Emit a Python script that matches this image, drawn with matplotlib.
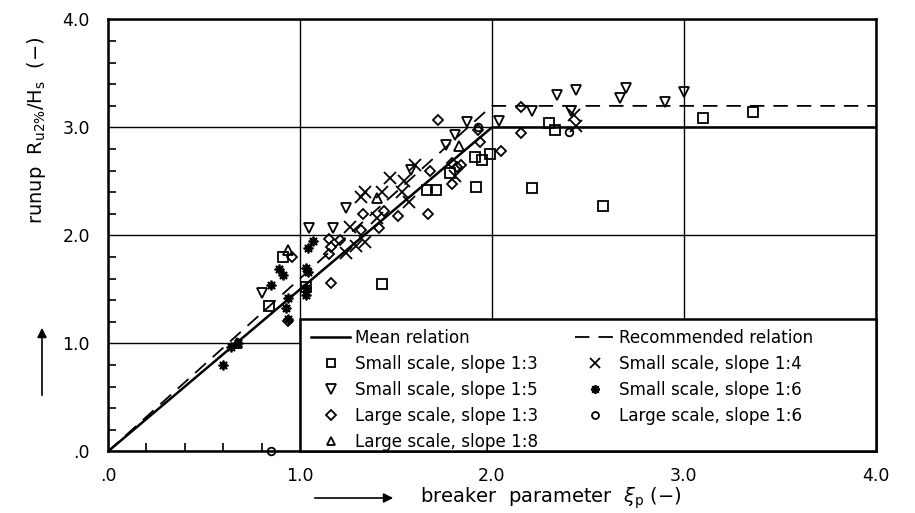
import numpy as np
import matplotlib.pyplot as plt
from matplotlib.lines import Line2D
from matplotlib.patches import Rectangle

# relations (breakpoints)
mean_x = [0.0, 2.0, 4.0]
mean_y = [0.0, 3.0, 3.0]
rec_x = [0.0, 2.0, 4.0]
rec_y = [0.0, 3.2, 3.2]

# small scale, slope 1:3
s13_x = [1.43, 1.66, 1.71, 1.78, 1.92, 1.91, 1.95, 1.99, 2.21, 2.58, 2.30, 2.33, 3.10, 3.36, 0.84, 1.03, 0.91]
s13_y = [1.55, 2.42, 2.42, 2.58, 2.45, 2.73, 2.70, 2.75, 2.44, 2.27, 3.04, 2.98, 3.09, 3.14, 1.35, 1.52, 1.80]

# small scale, slope 1:5
s15_x = [1.87, 2.04, 2.21, 2.34, 2.44, 2.67, 2.70, 2.90, 3.00, 2.41, 1.81, 1.76, 1.24, 1.05, 1.17, 0.80, 1.58]
s15_y = [3.05, 3.06, 3.15, 3.30, 3.35, 3.27, 3.37, 3.24, 3.33, 3.15, 2.93, 2.84, 2.25, 2.07, 2.07, 1.47, 2.61]

# large scale, slope 1:3
l13_x = [1.72, 1.93, 1.94, 1.79, 1.84, 1.79, 1.68, 1.51, 1.67, 1.44, 1.33, 1.32, 1.41, 1.15,
         1.21, 1.16, 1.15, 1.16, 0.96, 2.15, 2.15, 2.05, 1.82, 0.94]
l13_y = [3.07, 2.98, 2.87, 2.67, 2.65, 2.48, 2.60, 2.18, 2.20, 2.23, 2.20, 2.05, 2.07, 1.97,
         1.96, 1.89, 1.83, 1.56, 1.80, 3.19, 2.95, 2.78, 2.63, 1.21]

# large scale, slope 1:8
l18_x = [1.83, 0.94, 1.40, 0.67]
l18_y = [2.83, 1.87, 2.35, 1.00]

# small scale, slope 1:4
s14_x = [2.43, 2.44, 1.81, 1.60, 1.54, 1.47, 1.53, 1.57, 1.32, 1.34, 1.43, 1.26, 1.34, 1.29, 1.24, 1.40]
s14_y = [3.12, 3.01, 2.55, 2.65, 2.50, 2.53, 2.40, 2.31, 2.36, 2.40, 2.40, 2.08, 1.94, 1.90, 1.84, 2.16]

# small scale, slope 1:6
s16_x = [1.07, 1.04, 0.89, 0.91, 0.85, 1.03, 1.04, 1.03, 1.03, 0.94, 0.93, 0.94, 0.68, 0.64, 0.60]
s16_y = [1.95, 1.88, 1.69, 1.63, 1.54, 1.70, 1.66, 1.51, 1.45, 1.42, 1.33, 1.23, 1.00, 0.97, 0.80]

# large scale, slope 1:6
l16_x = [0.85, 2.40, 1.93]
l16_y = [0.00, 2.96, 3.00]

ticks = [0, 1, 2, 3, 4]
tick_labels = ['.0', '1.0', '2.0', '3.0', '4.0']

plt.rcParams['font.family'] = 'DejaVu Sans'

fig = plt.figure(figsize=(9.15, 5.13), dpi=100)
ax = fig.add_axes([0.118, 0.12, 0.839, 0.842])

ax.plot(mean_x, mean_y, color='black', lw=1.8, zorder=3)
ax.plot(rec_x, rec_y, color='black', lw=1.3, linestyle=(0, (8, 5)), zorder=3)

mk = dict(color='black', linestyle='none', markerfacecolor='none', markeredgewidth=1.3)
ax.plot(s13_x, s13_y, marker='s', markersize=7, zorder=4, **mk)
ax.plot(s15_x, s15_y, marker='v', markersize=7.5, zorder=4, **mk)
ax.plot(l13_x, l13_y, marker='D', markersize=5.5, zorder=4, **mk)
ax.plot(l18_x, l18_y, marker='^', markersize=7, zorder=4, **mk)
ax.plot(s14_x, s14_y, marker='x', markersize=8, zorder=4, **mk)
ax.plot(s16_x, s16_y, marker=(8, 2, 0), markersize=7, zorder=4, **mk)
ax.plot(l16_x, l16_y, marker='o', markersize=5.5, zorder=4, clip_on=False, **mk)

ax.set_xlim(0, 4)
ax.set_ylim(0, 4)
ax.set_xticks(ticks, tick_labels)
ax.set_yticks(ticks, tick_labels)
ax.set_xticks(np.arange(0, 4.01, 0.2), minor=True)
ax.set_yticks(np.arange(0, 4.01, 0.2), minor=True)
ax.tick_params(which='major', length=0, labelsize=12.5)
ax.tick_params(axis='x', which='major', pad=11)
ax.tick_params(axis='y', which='major', pad=13)
ax.tick_params(which='minor', direction='in', length=6, width=1.2)
ax.grid(True, which='major', color='black', lw=1.0)
for s in ax.spines.values():
    s.set_linewidth(1.8)

# legend box covering the lower right of the plot
ax.add_patch(Rectangle((1.0, 0.0), 3.0, 1.23, facecolor='white', edgecolor='black',
                       lw=1.8, zorder=5, clip_on=False))

handles = [
    Line2D([], [], color='black', lw=1.8),
    Line2D([], [], marker='s', markersize=6, **mk),
    Line2D([], [], marker='v', markersize=6.5, **mk),
    Line2D([], [], marker='D', markersize=5, **mk),
    Line2D([], [], marker='^', markersize=6, **mk),
    Line2D([], [], color='black', lw=1.3, linestyle=(0, (8, 5))),
    Line2D([], [], marker='x', markersize=6.5, **mk),
    Line2D([], [], marker=(8, 2, 0), markersize=6.5, **mk),
    Line2D([], [], marker='o', markersize=5, **mk),
]
labels = ['Mean relation', 'Small scale, slope 1:3', 'Small scale, slope 1:5',
          'Large scale, slope 1:3', 'Large scale, slope 1:8',
          'Recommended relation', 'Small scale, slope 1:4', 'Small scale, slope 1:6',
          'Large scale, slope 1:6']
leg = ax.legend(handles, labels, ncols=2, loc='upper left', bbox_to_anchor=(0.265, 0.283),
                fontsize=12.1, frameon=False, borderaxespad=0, borderpad=0,
                handlelength=2.3, handletextpad=0.3, labelspacing=0.47,
                columnspacing=2.2)
leg.set_zorder(6)

fig.text(0.040, 1 - 130 / 513, r'runup  R$_{\mathregular{u2\%}}$/H$_\mathregular{s}$  (−)',
         rotation=90, ha='center', va='center', fontsize=14)
fig.text(420 / 915, 1 - 498 / 513, r'breaker  parameter  $\xi_\mathregular{p}$ (−)',
         ha='left', va='center', fontsize=14)
ax.annotate('', xy=(42 / 915, 1 - 325 / 513), xytext=(42 / 915, 1 - 398 / 513),
            xycoords='figure fraction',
            arrowprops=dict(arrowstyle='-|>', color='black', lw=1.2, mutation_scale=14))
ax.annotate('', xy=(396 / 915, 1 - 498 / 513), xytext=(312 / 915, 1 - 498 / 513),
            xycoords='figure fraction',
            arrowprops=dict(arrowstyle='-|>', color='black', lw=1.2, mutation_scale=14))

fig.savefig('out.png', dpi=100)
